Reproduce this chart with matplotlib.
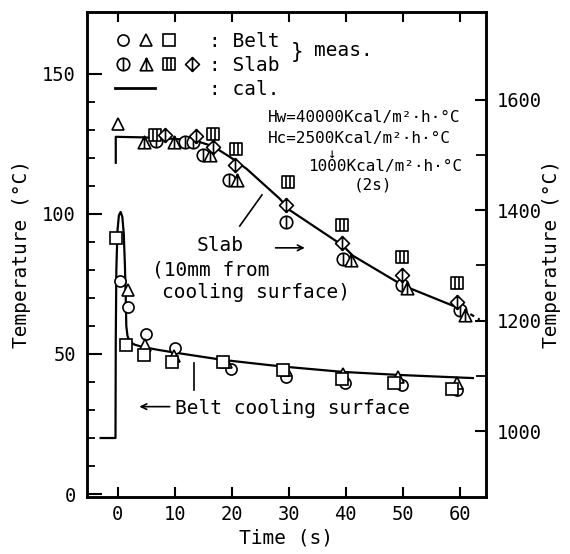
import matplotlib
matplotlib.use('Agg')
import matplotlib.pyplot as plt
from matplotlib.legend_handler import HandlerTuple
from matplotlib.lines import Line2D
from matplotlib.path import Path
from matplotlib.ticker import FixedLocator

plt.rcParams['font.family'] = ['DejaVu Sans Mono', 'DejaVu Sans']

# ---------------- data ----------------
# Belt (left axis, deg C) calculated curve
belt_cal_t = [-3.0, -0.4, -0.35, -0.25, -0.05, 0.2, 0.5, 0.8, 1.05, 1.25, 1.4, 1.5, 1.7, 2.1, 3.0, 4.4, 7.0, 10.3, 18.4, 26.7, 29.6, 39.5, 49.5, 62.3]
belt_cal_T = [20, 20, 55, 80, 94, 99.5, 100.7, 99, 93, 82, 70, 60, 56.5, 54.3, 53.3, 52.5, 51.5, 50.4, 47.9, 46.0, 45.4, 43.6, 42.5, 41.4]

# Belt measured
belt_circ_t = [0.35, 1.75, 4.9, 10.0, 19.8, 29.6, 39.8, 49.8, 59.6]
belt_circ_T = [76.0, 66.8, 57.0, 52.0, 44.6, 41.9, 39.6, 38.9, 37.1]
belt_tri_t = [1.75, 4.7, 9.8, 19.0, 29.6, 39.6, 49.1, 59.5]
belt_tri_T = [72.9, 53.2, 49.3, 47.3, 44.3, 43.0, 41.8, 39.6]
belt_sq_t = [-0.35, 1.4, 4.6, 9.6, 18.4, 29.0, 39.3, 48.4, 58.6]
belt_sq_T = [91.4, 53.2, 49.6, 47.1, 47.1, 44.3, 41.0, 39.6, 37.5]

# Slab (right axis, deg C) calculated curve
slab_cal_t = [-0.35, -0.35, 4.4, 10.4, 13.9, 16.7, 20.2, 22.6, 28.4, 30.2, 39.5, 41.2, 50.0, 50.7, 60.5]
slab_cal_T = [1486, 1533, 1532, 1529, 1525, 1516, 1493, 1475, 1421, 1400, 1336, 1318, 1264, 1261, 1220]
slab_ext_t = [60.5, 63.5]
slab_ext_T = [1220, 1202]

# Slab measured
slab_init_t = [0.0]
slab_init_T = [1556]
slab_circ_t = [6.7, 11.8, 13.2, 15.0, 19.6, 29.5, 39.5, 49.8, 60.0]
slab_circ_T = [1526, 1524, 1524, 1500, 1455, 1379, 1312, 1265, 1220]
slab_tri_t = [4.6, 9.8, 16.2, 21.0, 41.0, 50.7, 61.0]
slab_tri_T = [1524, 1524, 1500, 1455, 1310, 1259, 1211]
slab_sq_t = [6.5, 16.7, 20.7, 29.8, 39.3, 49.8, 59.5]
slab_sq_T = [1536, 1538, 1511, 1451, 1374, 1316, 1268]
slab_dia_t = [8.2, 13.7, 16.7, 20.5, 29.6, 39.3, 49.8, 59.5]
slab_dia_T = [1537, 1535, 1515, 1482, 1410, 1341, 1283, 1234]

left_ticks = [0, 50, 100, 150]
right_ticks = [1000, 1200, 1400, 1600]
x_ticks = [0, 10, 20, 30, 40, 50, 60]

# ---------------- custom barred markers ----------------
M, L, C = Path.MOVETO, Path.LINETO, Path.CLOSEPOLY


def with_bars(outline, xs=(0.0,)):
    verts = list(outline.vertices)
    codes = list(outline.codes) if outline.codes is not None else [M] + [L] * (len(verts) - 1)
    for x in xs:
        verts += [(x, -1.0), (x, 1.0)]
        codes += [M, L]
    return Path(verts, codes)


circ_bar = with_bars(Path.unit_circle())
tri_bar = with_bars(Path([(0, 1), (-1, -1), (1, -1), (0, 1)], [M, L, L, C]), xs=(0.0,))
sq_bar = with_bars(Path([(-1, -1), (1, -1), (1, 1), (-1, 1), (-1, -1)], [M, L, L, L, C]), xs=(-0.3, 0.3))
dia_bar = with_bars(Path([(0, 1), (1, 0), (0, -1), (-1, 0), (0, 1)], [M, L, L, L, C]))

# ---------------- figure ----------------
fig = plt.figure(figsize=(5.7, 5.54), dpi=100)
ax = fig.add_axes([0.1526, 0.1032, 0.700, 0.8751])
ax2 = ax.twinx()

ax.set_xlim(-5.4, 64.6)
ax.set_ylim(-1, 172.1)
ax2.set_ylim(881, 1759)

for s in list(ax.spines.values()) + list(ax2.spines.values()):
    s.set_linewidth(1.8)

ax.set_xticks(x_ticks)
ax.set_yticks(left_ticks)
ax.yaxis.set_minor_locator(FixedLocator([10, 20, 30, 40, 60, 70, 80, 90, 110, 120, 130, 140]))
ax.tick_params(axis='both', which='major', direction='in', labelsize=13.5, width=1.5)
ax.tick_params(axis='y', which='major', length=11, pad=8)
ax.tick_params(axis='y', which='minor', direction='in', length=6, width=1.3)
ax.tick_params(axis='x', which='major', length=7, top=True, pad=6)
ax2.set_yticks(right_ticks)
ax2.yaxis.set_minor_locator(FixedLocator([1100, 1300, 1500]))
ax2.tick_params(axis='y', which='major', direction='in', length=8, width=1.5, labelsize=13.5, pad=8)
ax2.tick_params(axis='y', which='minor', direction='in', length=7, width=1.3)

ax.set_xlabel('Time (s)', fontsize=14, labelpad=3)
ax.set_ylabel('Temperature (°C)', fontsize=14, labelpad=8)
ax2.set_ylabel('Temperature (°C)', fontsize=14, labelpad=0)

# curves
ax.plot(belt_cal_t, belt_cal_T, color='black', lw=1.6, zorder=2)
ax2.plot(slab_cal_t, slab_cal_T, color='black', lw=1.6, zorder=2)
ax2.plot(slab_ext_t, slab_ext_T, color='black', lw=1.6, ls=(0, (2, 2)), zorder=2)

MS = 8
mkw = dict(ls='none', mfc='white', mec='black', mew=1.2, zorder=3)


def pts(axis, t, v, marker, ms=MS):
    axis.plot(t, v, marker=marker, ms=ms, **mkw)


pts(ax, belt_circ_t, belt_circ_T, 'o')
pts(ax, belt_tri_t, belt_tri_T, '^', ms=9)
pts(ax, belt_sq_t, belt_sq_T, 's')

pts(ax2, slab_init_t, slab_init_T, '^', ms=9)
pts(ax2, slab_circ_t, slab_circ_T, circ_bar, ms=9)
pts(ax2, slab_tri_t, slab_tri_T, tri_bar, ms=9)
pts(ax2, slab_sq_t, slab_sq_T, sq_bar, ms=9)
pts(ax2, slab_dia_t, slab_dia_T, dia_bar, ms=10)


# legend
def h(marker, ms=MS):
    return Line2D([], [], marker=marker, ms=ms, ls='none', mfc='white', mec='black', mew=1.2)


blank = Line2D([], [], ls='none')
handles = [
    (h('o'), h('^', 9), h('s'), blank),
    (h(circ_bar, 9), h(tri_bar, 9), h(sq_bar, 9), h(dia_bar, 10)),
    (Line2D([], [], color='black', lw=2), blank),
]
labels = [': Belt', ': Slab', ': cal.']
leg = ax2.legend(handles, labels, handler_map={tuple: HandlerTuple(ndivide=None, pad=0.3)},
                 loc='upper left', bbox_to_anchor=(0.05, 0.975), frameon=False,
                 fontsize=14, handlelength=4.4, handletextpad=0.45, labelspacing=0.25,
                 borderaxespad=0)

ax.text(30.3, 157.9, '}', fontsize=15, ha='left', va='center')
ax.text(34.4, 158.5, 'meas.', fontsize=14, ha='left', va='center')

# heat transfer coefficients
hkw = dict(fontsize=11.5, ha='left', va='center')
ax.text(26.3, 134.6, 'Hw=40000Kcal/m²·h·°C', **hkw)
ax.text(26.3, 127.1, 'Hc=2500Kcal/m²·h·°C', **hkw)
ax.text(37.5, 121.5, '↓', fontsize=10, ha='center', va='center')
ax.text(33.3, 116.8, '1000Kcal/m²·h·°C', **hkw)
ax.text(44.7, 110.2, '(2s)', fontsize=11.5, ha='center', va='center')

# slab label
ax.text(13.9, 88.9, 'Slab', fontsize=14, ha='left', va='center')
ax.text(6.0, 80.0, '(10mm from', fontsize=14, ha='left', va='center')
ax.text(7.7, 72.1, 'cooling surface)', fontsize=14, ha='left', va='center')
ax.plot([21.4, 25.3], [95.7, 106.8], color='black', lw=1.2)
ax.annotate('', xy=(33.3, 87.9), xytext=(27.2, 87.9),
            arrowprops=dict(arrowstyle='->', color='black', lw=1.2))

# belt label
ax.text(10.0, 30.4, 'Belt cooling surface', fontsize=14, ha='left', va='center')
ax.annotate('', xy=(3.3, 31.2), xytext=(9.6, 31.2),
            arrowprops=dict(arrowstyle='->', color='black', lw=1.2))
ax.plot([13.3, 13.3], [46.8, 37.1], color='black', lw=1.2)

fig.savefig('out.png', dpi=100)
